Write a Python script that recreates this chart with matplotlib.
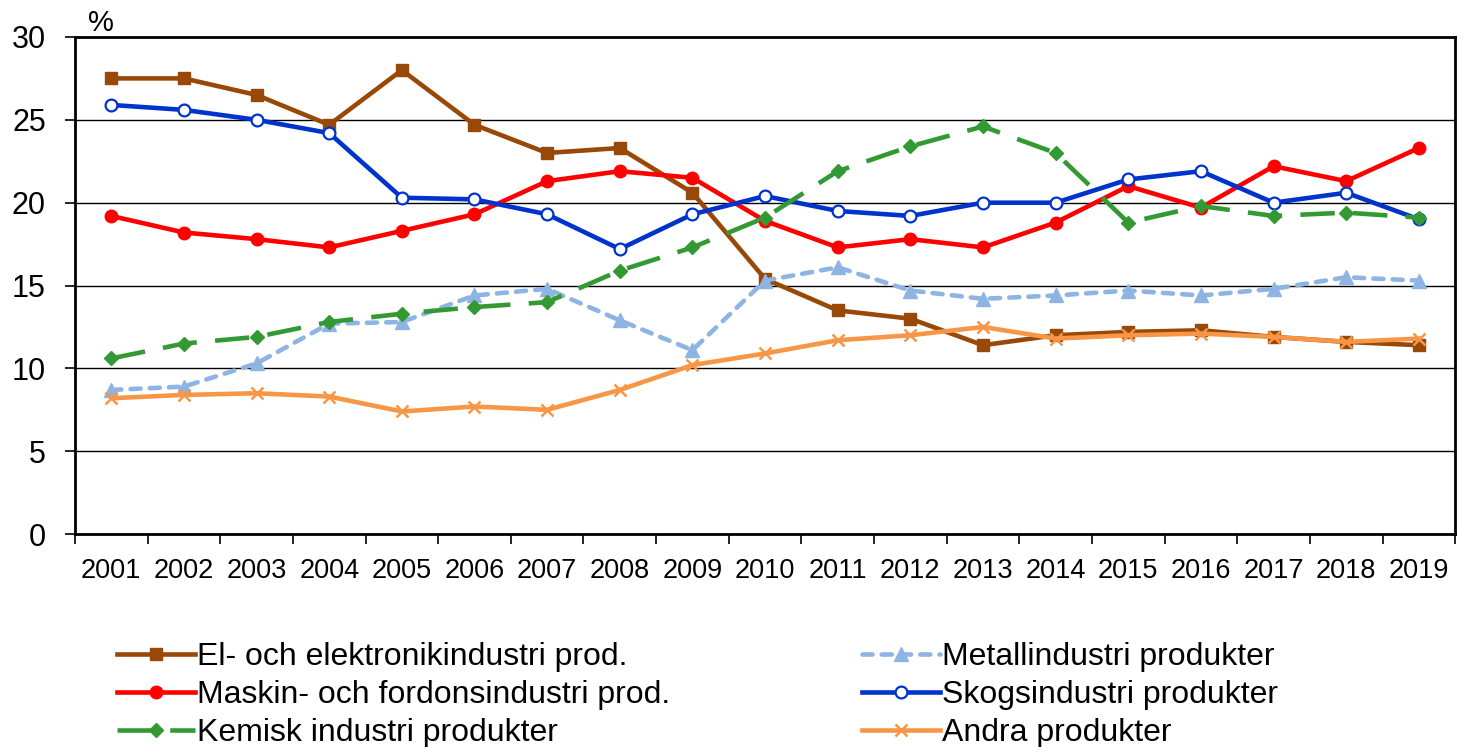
import numpy as np
import matplotlib
matplotlib.use("Agg")
import matplotlib.pyplot as plt
from matplotlib.ticker import MultipleLocator, FixedLocator

plt.rcParams["font.family"] = ["Liberation Sans", "DejaVu Sans"]

years = [str(y) for y in range(2001, 2020)]

el_elektronik = [27.5, 27.5, 26.5, 24.7, 28.0, 24.7, 23.0, 23.3, 20.6, 15.4,
                 13.5, 13.0, 11.4, 12.0, 12.2, 12.3, 11.9, 11.6, 11.4]
maskin_fordon = [19.2, 18.2, 17.8, 17.3, 18.3, 19.3, 21.3, 21.9, 21.5, 18.9,
                 17.3, 17.8, 17.3, 18.8, 21.0, 19.7, 22.2, 21.3, 23.3]
kemisk = [10.6, 11.5, 11.9, 12.8, 13.3, 13.7, 14.0, 15.9, 17.3, 19.1,
          21.9, 23.4, 24.6, 23.0, 18.8, 19.8, 19.2, 19.4, 19.1]
metall = [8.7, 8.9, 10.3, 12.7, 12.8, 14.4, 14.8, 12.9, 11.1, 15.3,
          16.1, 14.7, 14.2, 14.4, 14.7, 14.4, 14.8, 15.5, 15.3]
skog = [25.9, 25.6, 25.0, 24.2, 20.3, 20.2, 19.3, 17.2, 19.3, 20.4,
        19.5, 19.2, 20.0, 20.0, 21.4, 21.9, 20.0, 20.6, 19.0]
andra = [8.2, 8.4, 8.5, 8.3, 7.4, 7.7, 7.5, 8.7, 10.2, 10.9,
         11.7, 12.0, 12.5, 11.8, 12.0, 12.1, 11.9, 11.6, 11.8]

fig = plt.figure(figsize=(14.61, 7.47), dpi=100)
ax = fig.add_axes([0.0513, 0.285, 0.9447, 0.6655])

x = np.arange(len(years))
lw = 3.3

h_el, = ax.plot(x, el_elektronik, color="#984807", lw=lw, marker="s", ms=9,
                label="El- och elektronikindustri prod.", zorder=3)
h_ma, = ax.plot(x, maskin_fordon, color="#FF0000", lw=lw, marker="o", ms=9,
                label="Maskin- och fordonsindustri prod.", zorder=3)
h_ke, = ax.plot(x, kemisk, color="#339933", lw=lw, marker="D", ms=7,
                dashes=(7.5, 4), label="Kemisk industri produkter", zorder=4)
h_me, = ax.plot(x, metall, color="#8DB4E2", lw=lw, marker="^", ms=10,
                dashes=(2.2, 2.0), dash_capstyle="round",
                label="Metallindustri produkter", zorder=3)
h_sk, = ax.plot(x, skog, color="#0033CC", lw=lw, marker="o", ms=8.5,
                markerfacecolor="white", markeredgewidth=1.6,
                label="Skogsindustri produkter", zorder=3)
h_an, = ax.plot(x, andra, color="#F79646", lw=lw, marker="x", ms=9,
                markeredgewidth=1.8, label="Andra produkter", zorder=5)

ax.set_xlim(-0.5, len(years) - 0.5)
ax.set_ylim(0, 30)
ax.yaxis.set_major_locator(MultipleLocator(5))
ax.set_xticks(x)
ax.set_xticklabels(years, fontsize=19.5)
ax.xaxis.set_minor_locator(FixedLocator(np.arange(-0.5, len(years), 1)))
ax.tick_params(axis="x", which="major", length=0, pad=17)
ax.tick_params(axis="x", which="minor", length=7, width=1.2, direction="out")
ax.tick_params(axis="y", labelsize=22, length=7, width=1.2, direction="out",
               pad=14)

ax.grid(axis="y", color="#000000", lw=1.0, zorder=0)
for side in ["left", "bottom", "top", "right"]:
    ax.spines[side].set_linewidth(2)
    ax.spines[side].set_color("black")

fig.text(0.060, 0.951, "%", fontsize=21, ha="left", va="bottom")

leg_kw = dict(loc="upper left", frameon=False, fontsize=23, handlelength=2.45,
              handletextpad=0.05, labelspacing=0.24, borderaxespad=0,
              borderpad=0)
fig.legend(handles=[h_el, h_ma, h_ke], bbox_to_anchor=(0.080, 0.140), **leg_kw)
fig.legend(handles=[h_me, h_sk, h_an], bbox_to_anchor=(0.590, 0.140), **leg_kw)

fig.savefig("out.png", dpi=100)
